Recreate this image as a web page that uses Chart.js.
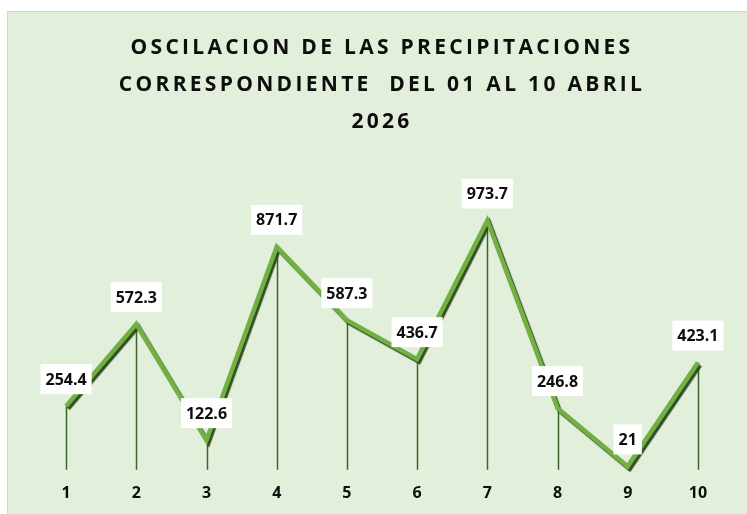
<!DOCTYPE html>
<html>
<head>
<meta charset="utf-8">
<script src="https://cdn.jsdelivr.net/npm/chart.js@4.4.1/dist/chart.umd.min.js"></script>
<style>
  html, body { margin: 0; padding: 0; background: #ffffff; overflow: hidden; }
  #box {
    position: absolute; left: 7px; top: 11px;
    width: 745px; height: 520px;
    background: #e2efda; border: 1px solid #d4d4d4;
  }
  #wrap { position: absolute; left: 0; top: 0; width: 738px; height: 520px; }
</style>
</head>
<body>
<div id="box"><div id="wrap"><canvas id="chart"></canvas></div></div>
<script>
// datos de la grafica
const dias = ['1', '2', '3', '4', '5', '6', '7', '8', '9', '10'];
const precipitacion = [254.4, 572.3, 122.6, 871.7, 587.3, 436.7, 973.7, 246.8, 21, 423.1];
const tituloLineas = [
  'OSCILACION DE LAS PRECIPITACIONES',
  'CORRESPONDIENTE  DEL 01 AL 10 ABRIL',
  '2026'
];

// espaciado de letras solo para el titulo
const espaciado = {
  id: 'espaciado',
  beforeDraw(chart) { chart.ctx.letterSpacing = '3.3px'; },
  beforeDatasetsDraw(chart) { chart.ctx.letterSpacing = '0px'; }
};

// lineas verticales desde cada punto hasta el eje
const lineasCaida = {
  id: 'lineasCaida',
  beforeDatasetsDraw(chart) {
    const ctx = chart.ctx;
    const meta = chart.getDatasetMeta(0);
    const yBase = chart.scales.y.getPixelForValue(0) - 2;
    ctx.save();
    ctx.strokeStyle = '#3d6626';
    ctx.lineWidth = 1.5;
    meta.data.forEach(p => {
      ctx.beginPath();
      ctx.moveTo(Math.round(p.x) + 0.5, p.y);
      ctx.lineTo(Math.round(p.x) + 0.5, yBase);
      ctx.stroke();
    });
    ctx.restore();
  }
};

// sombra de la linea
const sombra = {
  id: 'sombra',
  beforeDatasetDraw(chart) {
    const ctx = chart.ctx;
    ctx.save();
    ctx.shadowColor = 'rgba(40,70,25,0.95)';
    ctx.shadowOffsetX = 2;
    ctx.shadowOffsetY = 2.5;
    ctx.shadowBlur = 1;
  },
  afterDatasetDraw(chart) {
    chart.ctx.restore();
  }
};

// etiquetas con fondo blanco
const etiquetas = {
  id: 'etiquetas',
  afterDatasetsDraw(chart) {
    const ctx = chart.ctx;
    const meta = chart.getDatasetMeta(0);
    ctx.save();
    ctx.font = 'bold 16px "Open Sans"';
    ctx.textAlign = 'center';
    ctx.textBaseline = 'middle';
    meta.data.forEach((p, i) => {
      const txt = String(precipitacion[i]);
      const w = ctx.measureText(txt).width + 10;
      const h = 30;
      const cy = p.y - 27;
      ctx.fillStyle = '#ffffff';
      ctx.fillRect(p.x - w / 2, cy - h / 2, w, h);
      ctx.fillStyle = '#0d0d0d';
      ctx.fillText(txt, p.x, cy + 1);
    });
    ctx.restore();
  }
};

new Chart(document.getElementById('chart'), {
  type: 'line',
  data: {
    labels: dias,
    datasets: [{
      data: precipitacion,
      borderColor: '#72b043',
      borderWidth: 4.5,
      borderJoinStyle: 'miter',
      pointRadius: 0,
      tension: 0,
      fill: false
    }]
  },
  options: {
    responsive: true,
    maintainAspectRatio: false,
    animation: false,
    layout: { padding: { left: 23, right: 13, top: 0, bottom: 25 } },
    plugins: {
      legend: { display: false },
      tooltip: { enabled: false },
      title: {
        display: true,
        text: tituloLineas,
        color: '#0d0d0d',
        font: { family: '"Open Sans"', size: 21, weight: 'bold', lineHeight: 1.78 },
        padding: { top: 17, bottom: 21 }
      }
    },
    scales: {
      x: {
        offset: true,
        grid: { display: false },
        border: { display: false },
        ticks: { z: 1, color: '#0d0d0d', font: { family: '"Open Sans"', size: 16, weight: 'bold' }, padding: 4, maxRotation: 0 }
      },
      y: {
        display: false,
        min: 0,
        max: 1200
      }
    }
  },
  plugins: [espaciado, lineasCaida, sombra, etiquetas]
});
</script>
</body>
</html>
